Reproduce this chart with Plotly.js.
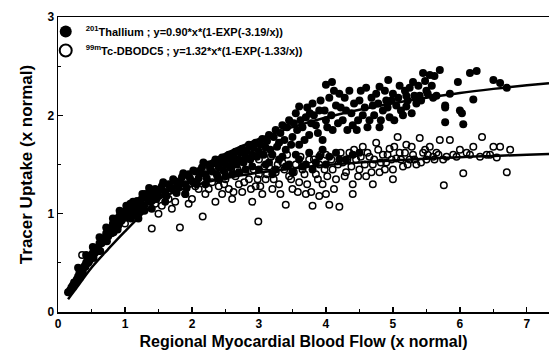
<!DOCTYPE html>
<html><head><meta charset="utf-8">
<script src="https://cdn.plot.ly/plotly-3.0.1.min.js"></script>
<style>html,body{margin:0;padding:0;background:#fff}#c{width:549px;height:364px}</style>
</head><body><div id="c"></div>
<script>
// Thallium-201 (filled circles)
const tlX = [0.15,0.18,0.2,0.22,0.25,0.28,0.3,0.32,0.35,0.38,0.4,0.42,0.45,0.48,0.5,0.52,0.55,0.58,0.6,0.62,0.65,0.68,0.7,0.72,0.75,0.78,0.8,0.82,0.85,0.88,0.9,0.92,0.95,0.98,1.0,1.03,1.05,1.08,1.1,1.13,1.15,1.18,1.2,1.25,1.28,1.3,1.35,1.38,1.4,1.45,1.5,1.55,1.6,1.65,1.7,1.75,1.8,1.85,1.9,1.95,2.0,2.05,2.1,2.15,2.2,2.25,2.3,2.35,2.4,2.45,2.5,2.55,2.6,2.65,2.7,2.75,2.8,2.85,2.9,2.95,3.0,3.05,3.1,3.15,3.2,3.25,3.3,3.35,3.4,3.45,3.5,3.55,3.6,3.6,3.65,3.7,3.75,3.76,3.8,3.85,3.9,3.95,4.0,4.0,4.05,4.09,4.1,4.15,4.2,4.25,4.3,4.35,4.4,4.46,4.5,4.55,4.6,4.65,4.7,4.75,4.8,4.8,4.85,4.9,4.93,4.95,5.0,5.05,5.1,5.15,5.2,5.2,5.25,5.3,5.35,5.4,5.45,5.5,5.55,5.6,5.7,5.78,5.78,5.78,5.85,5.97,6.0,6.03,6.05,6.15,6.2,6.25,6.5,6.6,6.7,
  3.0,3.1,3.2,3.3,3.4,3.5,3.6,3.7,3.8,3.9,4.0,4.2,4.4,2.6,2.8,2.4,2.2,1.9,1.6,1.4,1.2,0.9,0.7,0.5,0.35,0.3,
  0.24,0.27,0.33,0.37,0.41,0.44,0.47,0.53,0.56,0.59,0.63,0.66,0.69,0.73,0.76,0.79,0.83,0.86,0.89,0.93,0.96,0.99,1.02,1.06,1.09,1.12,1.16,1.19,1.22,1.26,1.29,1.33,1.36,1.42,1.47,1.52,1.57,1.62,1.67,1.72,1.77,1.82,1.87,1.92,1.97,2.02,2.07,2.12,2.17,2.22,2.27,2.32,2.37,2.42,2.47,2.52,2.57,2.62,2.67,2.72,2.77,2.82,2.87,2.92,2.97,3.02,3.07,3.12,3.17,3.22,3.27,3.32,3.38,3.42,3.48,3.52,3.57,3.62,3.68,3.72,3.78,3.82,3.88,3.92,3.98,4.02,4.08,4.12,4.18,4.22,4.28,4.32,4.38,4.42,4.48,4.52,4.58,4.62,4.68,4.72,4.78,4.82,4.88,4.92,4.98,5.02,5.08,5.12,5.18,5.22,5.28,5.32,5.38,5.42,5.48,5.52,5.58,5.62,5.65,
  3.15,3.25,3.35,3.45,3.55,3.65,3.75,3.85,3.95,4.05,4.15,4.3,4.5,2.9,2.7,2.5,
  0.42,0.52,0.62,0.72,0.82,0.92,1.02];
const tlY = [0.2,0.22,0.25,0.27,0.3,0.33,0.36,0.4,0.39,0.45,0.47,0.5,0.5,0.55,0.56,0.6,0.6,0.65,0.64,0.7,0.7,0.75,0.73,0.8,0.77,0.85,0.82,0.9,0.87,0.95,0.89,0.98,0.93,1.02,0.96,1.05,0.97,1.1,1.0,1.08,1.02,1.13,1.05,1.15,1.08,1.2,1.12,1.22,1.16,1.25,1.18,1.28,1.22,1.3,1.25,1.33,1.27,1.37,1.3,1.4,1.33,1.43,1.36,1.47,1.4,1.5,1.43,1.55,1.47,1.57,1.5,1.6,1.52,1.63,1.55,1.66,1.58,1.7,1.6,1.72,1.63,1.76,1.67,1.8,1.6,1.85,1.72,1.9,1.65,1.95,1.78,2.02,1.7,2.09,1.88,1.98,1.8,2.02,2.12,1.9,2.05,1.75,2.31,1.95,2.18,2.34,1.85,2.1,2.22,1.95,2.05,2.25,1.9,1.85,2.15,2.0,2.28,1.95,2.1,2.22,1.88,2.29,2.05,2.15,2.36,1.98,2.22,2.1,2.3,2.0,2.2,2.09,2.28,2.34,2.12,2.2,2.43,2.25,2.41,2.18,2.46,2.08,1.93,2.1,2.22,2.34,2.05,2.02,1.91,2.43,2.16,2.45,2.36,2.33,2.28,
  1.45,1.5,1.4,1.55,1.48,1.42,1.55,1.5,1.45,1.58,1.5,1.55,1.6,1.4,1.45,1.35,1.3,1.2,1.12,1.05,0.95,0.88,0.74,0.58,0.42,0.45,
  0.3,0.31,0.35,0.41,0.46,0.53,0.52,0.55,0.63,0.62,0.62,0.72,0.72,0.72,0.82,0.84,0.81,0.9,0.84,0.92,0.98,0.96,1.0,1.06,0.95,1.12,1.07,0.99,1.12,1.2,1.03,1.17,1.26,1.21,1.15,1.24,1.32,1.18,1.27,1.35,1.21,1.32,1.41,1.26,1.36,1.44,1.3,1.42,1.52,1.36,1.46,1.51,1.4,1.53,1.44,1.56,1.47,1.58,1.5,1.62,1.52,1.64,1.55,1.67,1.58,1.7,1.6,1.74,1.65,1.78,1.68,1.82,1.75,1.88,1.7,1.92,1.85,1.95,1.75,2.08,1.92,2.0,1.82,2.15,2.05,1.88,2.0,2.25,1.92,2.08,2.18,1.85,2.02,2.12,1.95,2.25,2.08,1.88,2.18,2.0,2.12,1.95,2.25,2.08,2.15,1.95,2.18,2.05,2.25,2.15,2.02,2.2,2.3,2.15,2.35,2.22,2.3,2.4,2.2,
  1.52,1.45,1.58,1.5,1.6,1.48,1.62,1.52,1.65,1.58,1.62,1.55,1.62,1.48,1.42,1.38,
  0.58,0.66,0.76,0.86,0.95,1.03,1.08];

// Tc-99m DBODC5 (open circles)
const tcX = [0.36,0.45,0.6,0.8,1.0,1.1,1.2,1.3,1.4,1.45,1.55,1.65,1.75,1.82,1.9,2.0,2.1,2.16,2.2,2.3,2.35,2.4,2.45,2.5,2.55,2.6,2.65,2.7,2.75,2.8,2.85,2.9,2.95,2.99,3.0,3.0,3.05,3.1,3.15,3.2,3.25,3.3,3.35,3.4,3.45,3.5,3.55,3.6,3.65,3.7,3.75,3.78,3.8,3.85,3.9,3.95,4.0,4.05,4.1,4.15,4.2,4.25,4.3,4.35,4.4,4.45,4.5,4.55,4.6,4.65,4.7,4.75,4.8,4.85,4.9,4.95,5.0,5.05,5.07,5.1,5.15,5.2,5.25,5.3,5.35,5.4,5.45,5.5,5.55,5.6,5.65,5.7,5.75,5.76,5.85,5.9,6.0,6.05,6.1,6.2,6.33,6.4,6.5,6.6,6.7,6.75,
  1.5,1.7,1.95,2.05,2.25,2.38,2.48,2.58,2.62,2.68,2.78,2.82,2.88,2.92,2.98,3.02,3.08,3.12,3.18,3.22,3.28,3.32,3.38,3.42,3.48,3.52,3.58,3.62,3.68,3.72,3.82,3.88,3.92,3.98,4.02,4.08,4.12,4.18,4.22,4.28,4.32,4.38,4.42,4.48,4.52,4.58,4.62,4.68,4.72,4.78,4.82,4.88,4.92,4.98,5.02,5.12,5.18,5.22,5.28,5.32,5.42,5.48,5.52,5.62,5.68,5.8,5.95,6.15,6.3,6.45,6.55,5.0,4.7,4.4,4.0,3.9];
const tcY = [0.58,0.5,0.62,0.8,0.9,0.98,1.02,1.05,0.85,1.1,1.08,1.15,1.12,0.86,1.2,1.15,1.25,0.97,1.2,1.32,1.12,1.28,1.2,1.35,1.25,1.15,1.38,1.3,1.22,1.42,1.35,1.12,1.28,0.92,1.4,1.55,1.2,1.35,1.48,1.25,1.42,1.3,1.52,1.09,1.38,1.25,1.5,1.32,1.45,1.2,1.55,1.22,1.08,1.4,1.5,1.3,1.6,1.09,1.45,1.35,1.07,1.52,1.42,1.62,1.3,1.55,1.45,1.68,1.38,1.58,1.5,1.72,1.42,1.6,1.52,1.66,1.45,1.56,1.78,1.62,1.48,1.7,1.55,1.6,1.5,1.77,1.62,1.55,1.68,1.58,1.62,1.75,1.55,1.29,1.75,1.6,1.65,1.41,1.62,1.68,1.78,1.6,1.68,1.68,1.42,1.65,
  1.0,1.05,1.1,1.28,1.25,1.38,1.3,1.42,1.22,1.45,1.32,1.5,1.25,1.45,1.35,1.28,1.48,1.4,1.58,1.35,1.5,1.2,1.45,1.6,1.35,1.42,1.22,1.58,1.4,1.3,1.55,1.35,1.6,1.45,1.38,1.55,1.25,1.5,1.62,1.38,1.55,1.48,1.65,1.38,1.58,1.5,1.62,1.42,1.55,1.65,1.52,1.45,1.6,1.55,1.68,1.55,1.62,1.5,1.68,1.55,1.52,1.65,1.6,1.55,1.6,1.58,1.58,1.6,1.58,1.6,1.57,1.35,1.3,1.2,1.2,1.18];

// fitted curves
const fitX = [0.15,0.25,0.5,0.75,1,1.5,2,2.5,3,3.5,4,4.5,5,5.5,6,6.5,7,7.33];
const tlFitY = [0.13,0.22,0.45,0.64,0.82,1.15,1.42,1.61,1.76,1.88,1.978,2.057,2.123,2.178,2.228,2.269,2.305,2.327];
const tcFitY = [0.19,0.31,0.59,0.79,0.95,1.15,1.28,1.362,1.418,1.46,1.494,1.52,1.541,1.559,1.575,1.587,1.599,1.606];

const tlName = '<sup>201</sup>Thallium ; y=0.90*x*(1-EXP(-3.19/x))';
const tcName = '<sup>99m</sup>Tc-DBODC5 ; y=1.32*x*(1-EXP(-1.33/x))';

const F = 'Liberation Sans, Arial, sans-serif';
const traces = [
  {x: tlX, y: tlY, mode: 'markers', type: 'scatter', name: tlName,
   marker: {symbol: 'circle', size: 8, color: '#000'}},
  {x: tcX, y: tcY, mode: 'markers', type: 'scatter', name: tcName,
   marker: {symbol: 'circle-open', size: 6.5, color: '#000', line: {width: 1.5, color: '#000'}}},
  {x: fitX, y: tlFitY, mode: 'lines', type: 'scatter', showlegend: false,
   line: {color: '#000', width: 2.5, shape: 'spline'}},
  {x: fitX, y: tcFitY, mode: 'lines', type: 'scatter', showlegend: false,
   line: {color: '#000', width: 2.5, shape: 'spline'}}
];

const layout = {
  width: 549, height: 364,
  margin: {l: 58, r: 0, t: 17, b: 52},
  paper_bgcolor: '#fff', plot_bgcolor: '#fff',
  showlegend: true,
  legend: {x: -0.025, y: 1.0, xanchor: 'left', yanchor: 'top', bgcolor: 'rgba(0,0,0,0)',
    itemsizing: 'constant', tracegroupgap: 0,
    font: {family: F, size: 11, color: '#000', weight: 'bold'}},
  xaxis: {range: [0, 7.33], showgrid: false, zeroline: false,
    showline: true, linecolor: '#000', linewidth: 1.5, mirror: true,
    ticks: 'inside', ticklen: 5, tickwidth: 1.2, tickcolor: '#000', dtick: 1, tick0: 0,
    minor: {dtick: 0.5, ticks: 'inside', ticklen: 3, tickcolor: '#000'},
    tickfont: {family: F, size: 12, color: '#000', weight: 'bold'},
    title: {text: 'Regional Myocardial Blood Flow (x normal)', standoff: 6,
      font: {family: F, size: 16, color: '#000', weight: 'bold'}}},
  yaxis: {range: [0, 3], showgrid: false, zeroline: false,
    showline: true, linecolor: '#000', linewidth: 1.5,
    ticks: 'inside', ticklen: 5, tickwidth: 1.2, tickcolor: '#000', dtick: 1, tick0: 0,
    minor: {dtick: 0.5, ticks: 'inside', ticklen: 3, tickcolor: '#000'},
    tickfont: {family: F, size: 12, color: '#000', weight: 'bold'},
    title: {text: 'Tracer Uptake (x normal)', standoff: 10,
      font: {family: F, size: 17, color: '#000', weight: 'bold'}}}
};
Plotly.newPlot('c', traces, layout, {staticPlot: true, displayModeBar: false});
</script></body></html>
